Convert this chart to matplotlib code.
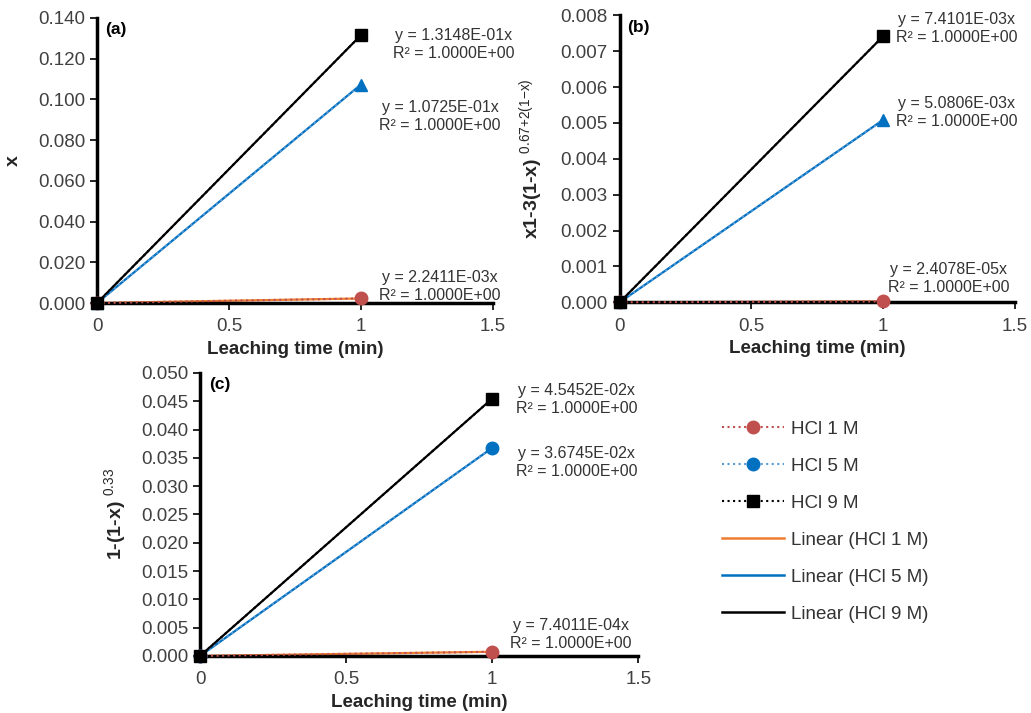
import numpy as np
import matplotlib
matplotlib.use("Agg")
import matplotlib.pyplot as plt
from matplotlib.lines import Line2D

plt.rcParams['font.family'] = ['Liberation Sans', 'DejaVu Sans']
plt.rcParams['mathtext.fontset'] = 'custom'
plt.rcParams['mathtext.bf'] = 'Liberation Sans:bold'
plt.rcParams['mathtext.rm'] = 'Liberation Sans'
plt.rcParams['mathtext.default'] = 'bf'

# Data: leaching time and the three kinetic expressions
time = [0, 1]
series = ['HCl 1 M', 'HCl 5 M', 'HCl 9 M']

a_vals = {'HCl 1 M': [0, 2.2411e-03], 'HCl 5 M': [0, 1.0725e-01], 'HCl 9 M': [0, 1.3148e-01]}
b_vals = {'HCl 1 M': [0, 2.4078e-05], 'HCl 5 M': [0, 5.0806e-03], 'HCl 9 M': [0, 7.4101e-03]}
c_vals = {'HCl 1 M': [0, 7.4011e-04], 'HCl 5 M': [0, 3.6745e-02], 'HCl 9 M': [0, 4.5452e-02]}

a_eq = ['y = 2.2411E-03x', 'y = 1.0725E-01x', 'y = 1.3148E-01x']
b_eq = ['y = 2.4078E-05x', 'y = 5.0806E-03x', 'y = 7.4101E-03x']
c_eq = ['y = 7.4011E-04x', 'y = 3.6745E-02x', 'y = 4.5452E-02x']
r2 = 'R² = 1.0000E+00'

a_ticks = [0, 0.02, 0.04, 0.06, 0.08, 0.10, 0.12, 0.14]
b_ticks = [0, 0.001, 0.002, 0.003, 0.004, 0.005, 0.006, 0.007, 0.008]
c_ticks = [0, 0.005, 0.010, 0.015, 0.020, 0.025, 0.030, 0.035, 0.040, 0.045, 0.050]
x_ticks = [0, 0.5, 1, 1.5]

pt_col = {'HCl 1 M': '#C0504D', 'HCl 5 M': '#0070C0', 'HCl 9 M': 'black'}
dot_col = {'HCl 1 M': '#C0504D', 'HCl 5 M': '#5B9BD5', 'HCl 9 M': 'black'}
fit_col = {'HCl 1 M': '#ED7D31', 'HCl 5 M': '#0070C0', 'HCl 9 M': 'black'}
mk = {'HCl 1 M': 'o', 'HCl 5 M': 'o', 'HCl 9 M': 's'}

fig = plt.figure(figsize=(10.31, 7.13), dpi=100)


def panel(rect, vals, eqs, eq_pos, yticks, ylabel, tag, m5, ylab_x):
    ax = fig.add_axes(rect)
    for s in series:
        m = m5 if s == 'HCl 5 M' else mk[s]
        ax.plot(time, vals[s], ls=':', color=dot_col[s], lw=1.5, marker=m,
                ms=9, mfc=pt_col[s], mec=pt_col[s], zorder=3, clip_on=False)
    for s in series:
        slope = vals[s][1]
        ax.plot(time, [slope * t for t in time], '-', color=fit_col[s], lw=1.6, zorder=2)
    for s, e, (px, py) in zip(series, eqs, eq_pos):
        ax.text(px, py, e + '\n' + r2, ha='center', va='top', fontsize=11.5,
                color='#333333', linespacing=1.25, multialignment='center')
    ax.set_xlim(0, 1.5)
    ax.set_ylim(yticks[0], yticks[-1])
    ax.set_xticks(x_ticks)
    ax.set_xticklabels(['0', '0.5', '1', '1.5'])
    ax.set_yticks(yticks)
    ax.set_yticklabels(['{:.3f}'.format(v) for v in yticks])
    for sp in ['top', 'right']:
        ax.spines[sp].set_visible(False)
    for sp in ['left', 'bottom']:
        ax.spines[sp].set_linewidth(2.5)
    ax.tick_params(direction='out', length=5, width=1.2, labelsize=13.5, colors='black',
                   labelcolor='#404040')
    ax.tick_params(axis='x', pad=6)
    ax.set_xlabel('Leaching time (min)', fontsize=13.5, fontweight='bold', labelpad=4,
                  color='#262626')
    ax.set_ylabel(ylabel, fontsize=14, fontweight='bold', color='#262626')
    ax.yaxis.set_label_coords(ylab_x, 0.5)
    ax.text(0.02, 0.985, tag, transform=ax.transAxes, fontsize=12.5,
            fontweight='bold', va='top', ha='left')
    return ax


panel([0.0941, 0.575, 0.384, 0.400], a_vals, a_eq,
      [(1.30, 0.0162), (1.30, 0.0997), (1.35, 0.1351)],
      a_ticks, 'x', '(a)', '^', -0.19)
panel([0.601, 0.576, 0.383, 0.4025], b_vals, b_eq,
      [(1.25, 0.00111), (1.28, 0.00574), (1.28, 0.00808)],
      b_ticks, r'x1-3(1-x) $^{\mathrm{0.67{+}2(1{-}x)}}$', '(b)', '^', -0.19)
panel([0.194, 0.080, 0.425, 0.397], c_vals, c_eq,
      [(1.27, 0.0067), (1.29, 0.0371), (1.29, 0.0482)],
      c_ticks, r'1-(1-x) $^{\mathrm{0.33}}$', '(c)', 'o', -0.165)

handles = []
labels = []
for s in series:
    handles.append(Line2D([], [], ls=':', color=dot_col[s], lw=1.5, marker=mk[s], ms=9,
                          mfc=pt_col[s], mec=pt_col[s]))
    labels.append(s)
for s in series:
    handles.append(Line2D([], [], ls='-', color=fit_col[s], lw=1.8))
    labels.append('Linear (' + s + ')')
fig.legend(handles, labels, loc='upper left', bbox_to_anchor=(0.684, 0.434),
           frameon=False, fontsize=13.5, handlelength=3.3, labelspacing=1.06,
           handletextpad=0.35, labelcolor='#333333')

fig.savefig('out.png', dpi=100)
